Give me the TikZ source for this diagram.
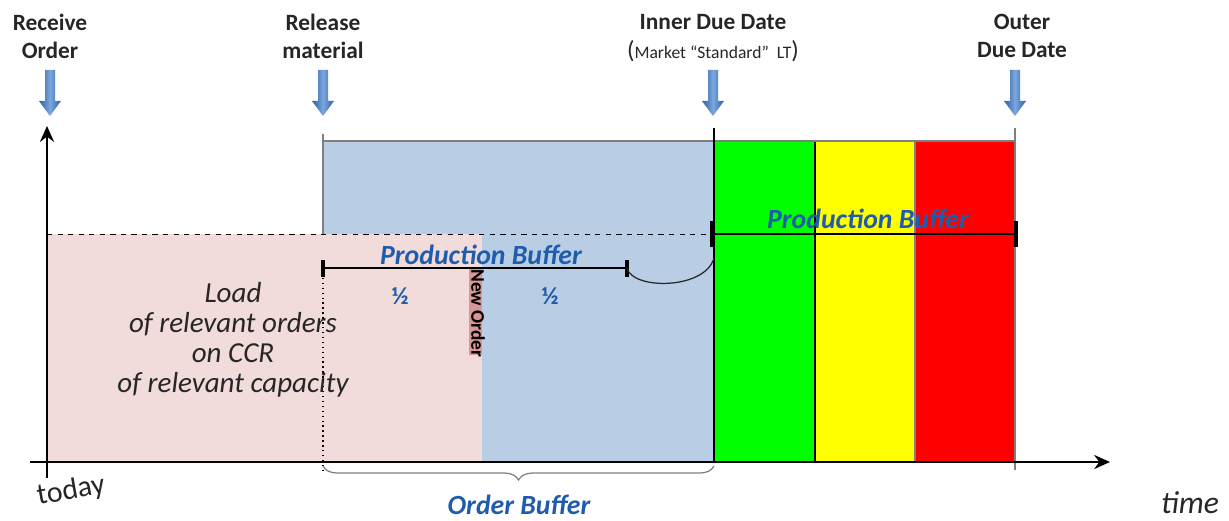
\documentclass[tikz,border=0pt]{standalone}
\usepackage{fontspec}
\setmainfont{Carlito}
\usetikzlibrary{positioning,calc,decorations.pathreplacing,arrows.meta}
\definecolor{cLoad}{HTML}{F2DCDB}
\definecolor{cBuf}{HTML}{B9CDE5}
\definecolor{cNew}{HTML}{D99694}
\definecolor{cTxtBlue}{HTML}{1F5CAB}
\definecolor{cArrD}{HTML}{2E5FA6}
\definecolor{cArrL}{HTML}{7AA7DD}
\definecolor{cEdge}{HTML}{7F7F7F}
\definecolor{cInk}{HTML}{262626}
\definecolor{cGreen}{HTML}{00FF00}
\definecolor{cYellow}{HTML}{FFFF00}
\definecolor{cRed}{HTML}{FF0000}
\tikzset{
  toplbl/.style={font=\fontsize{13.3}{16}\selectfont\bfseries,align=center,inner sep=0pt,text=cInk},
  buflbl/.style={font=\fontsize{15.8}{18}\selectfont\bfseries\itshape,text=cTxtBlue,inner sep=0pt},
  axisln/.style={line width=1.4pt,-{Stealth[length=9pt,width=8pt]}},
  barln/.style={line width=1.2pt},
  endtick/.style={line width=2pt},
  thinedge/.style={draw=cEdge,line width=0.6pt},
}
\begin{document}
\begin{tikzpicture}[x=0.02cm,y=-0.02cm]
  \useasboundingbox (0,0) rectangle (1229,520);
  \coordinate (O) at (47,462);
  \coordinate (yTop) at (47,126);
  \coordinate (xEnd) at (1110,462);
  \coordinate (xBeg) at (30,462);
  % buffers and zones
  \fill[cBuf] (323,141) rectangle (714,462);
  \fill[cLoad] (47,234) rectangle (482,462);
  \fill[cNew] (469,268) rectangle (482,355);
  \fill[cGreen] (714,142) rectangle (815,462);
  \fill[cYellow] (815,142) rectangle (915,462);
  \fill[cRed] (915,142) rectangle (1015,462);
  \draw[thinedge] (323,134) -- (323,234);
  \draw[thinedge] (323,141) -- (1015,141);
  \draw[thinedge] (915,141) -- (915,462);
  \draw[thinedge] (1015,128) -- (1015,470);
  \draw[line width=1.3pt] (714,128) -- (714,462);
  \draw[line width=1.1pt] (815,142) -- (815,462);
  \draw[dashed,line width=0.5pt] (47,234) -- (714,234);
  \draw[dotted,line width=0.8pt] (323,268) -- (323,470);
  % axes
  \draw[axisln] (47,478) -- (yTop);
  \draw[axisln] (xBeg) -- (xEnd);
  % event arrows
  \foreach \x in {50,323,713,1015}
    \shade[left color=cArrD,right color=cArrD,middle color=cArrL]
      (\x-5,70) -- (\x+5,70) -- (\x+5,101) -- (\x+11,101) -- (\x,116) -- (\x-11,101) -- (\x-5,101) -- cycle;
  \node[toplbl] (recv) at (50,36) {Receive\\Order};
  \node[toplbl] (rels) at (323,36) {Release\\material};
  \node[toplbl] (inner) at (713,22) {Inner Due Date};
  \node[font=\fontsize{10}{11}\selectfont,text=cInk,inner sep=0pt] (mkt) at (713,51)
    {{\fontsize{14}{14}\selectfont(}Market “Standard”~~LT{\fontsize{14}{14}\selectfont)}};
  \node[toplbl] (outer) at (1022,36) {Outer\\Due Date};
  % production buffer bars
  \coordinate (pbL) at (323,268);
  \coordinate (pbM) at (627,268);
  \draw[barln] (pbL) -- (pbM);
  \draw[endtick] (323,260) -- (323,277) (627,260) -- (627,277);
  \draw[line width=0.7pt,cInk] (pbM) .. controls (632,290) and (705,290) .. (714,258);
  \coordinate (pbR1) at (712,234);
  \coordinate (pbR2) at (1016,234);
  \draw[barln] (pbR1) -- (pbR2);
  \draw[endtick] (712,221) -- (712,247) (1016,221) -- (1016,247);
  \node[buflbl] (pbufL) at (481,255) {Production Buffer};
  \node[buflbl] (pbufR) at (868,219) {Production Buffer};
  \node[buflbl,font=\fontsize{14}{16}\selectfont\bfseries] (halfA) at (400,296) {½};
  \node[buflbl,font=\fontsize{14}{16}\selectfont\bfseries] (halfB) at (550,296) {½};
  \node[font=\fontsize{11}{12}\selectfont\bfseries,rotate=-90,anchor=west,inner sep=0pt] (newo) at (478,269) {New Order};
  % load text
  \node[font=\fontsize{16.5}{17}\selectfont\itshape,align=center,text=cInk] (load) at (233,340)
    {Load\\of relevant orders\\on CCR\\of relevant capacity};
  % order buffer
  \draw[decorate,decoration={brace,amplitude=8pt},cEdge,line width=0.7pt] (714,466) -- (323,466);
  \node[buflbl] (obuf) at (519,505) {Order Buffer};
  \node[font=\fontsize{17}{19}\selectfont,rotate=10,text=cInk] (today) at (71,491) {today};
  \node[font=\fontsize{18}{20}\selectfont\itshape,text=cInk,inner sep=1pt] (time) at (1190,503) {time};
\end{tikzpicture}
\end{document}
